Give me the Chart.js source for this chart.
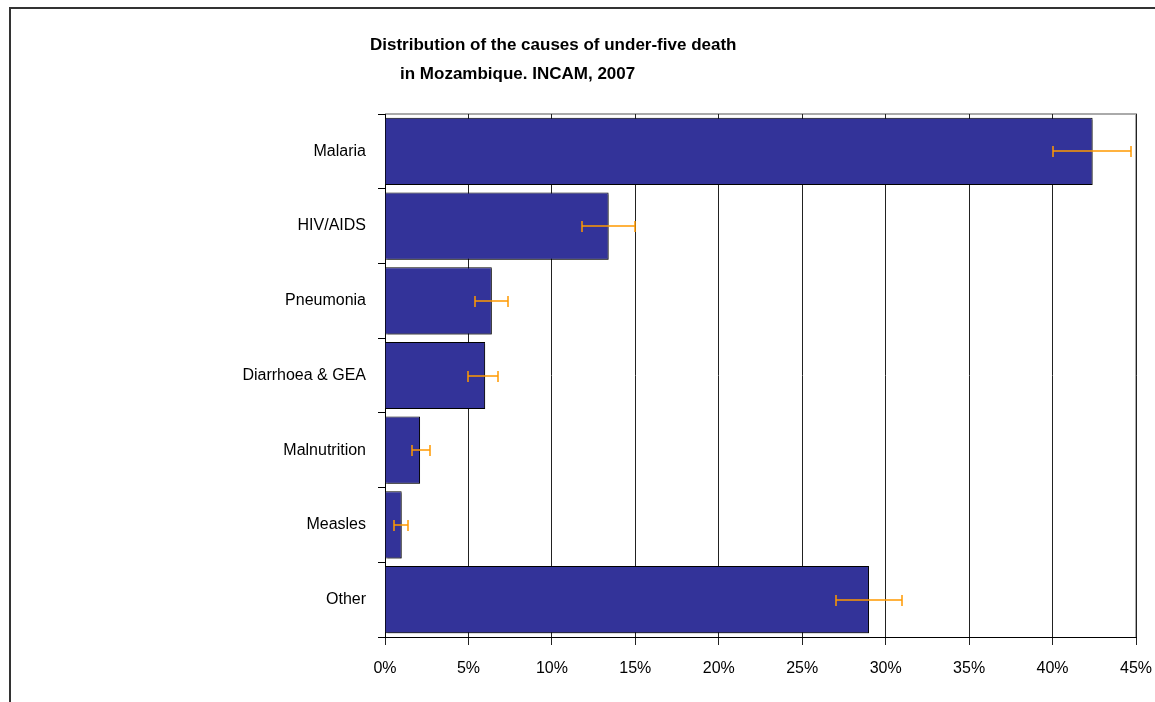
<!DOCTYPE html>
<html>
<head>
<meta charset="utf-8">
<script src="https://cdn.jsdelivr.net/npm/chart.js@4.4.0/dist/chart.umd.min.js"></script>
<style>
    html, body { margin: 0; padding: 0; background: #fff; overflow: hidden; }
    #wrap { position: relative; width: 1155px; height: 702px; }
    #frame {
        position: absolute; left: 9px; top: 7px; width: 1300px; height: 900px;
        border-left: 2px solid #333; border-top: 2px solid #333;
        pointer-events: none;
    }
    canvas { position: absolute; left: 0; top: 0; }
</style>
</head>
<body>
<div id="wrap">
    <canvas id="chart" width="1155" height="702"></canvas>
    <div id="frame"></div>
</div>
<script>
const causes = ['Malaria', 'HIV/AIDS', 'Pneumonia', 'Diarrhoea & GEA', 'Malnutrition', 'Measles', 'Other'];
const percents = [42.4, 13.4, 6.4, 6.0, 2.1, 1.0, 29.0];
const ciLow = [40.0, 11.8, 5.4, 5.0, 1.6, 0.55, 27.0];
const ciHigh = [44.7, 15.0, 7.4, 6.8, 2.7, 1.4, 31.0];
const titleLines = ['Distribution of the causes of under-five death', 'in Mozambique. INCAM, 2007'];

const FONT = "'Liberation Sans', Arial, sans-serif";

// bar shadow + plot frame top/right
const barShadow = {
    id: 'barShadow',
    beforeDatasetsDraw(chart) {
        const ctx = chart.ctx;
        ctx.save();
        ctx.shadowColor = 'rgba(0,0,0,0.35)';
        ctx.shadowOffsetX = 2;
        ctx.shadowOffsetY = 2;
        ctx.shadowBlur = 0;
    },
    afterDatasetsDraw(chart) {
        chart.ctx.restore();
    },
    beforeDraw(chart) {
        const { ctx, chartArea: a } = chart;
        ctx.save();
        ctx.strokeStyle = '#aaa';
        ctx.lineWidth = 2;
        ctx.beginPath();
        ctx.moveTo(a.left, a.top);
        ctx.lineTo(a.right, a.top);
        ctx.lineTo(a.right, a.bottom);
        ctx.stroke();
        ctx.restore();
    }
};

// error bars drawn from the x scale
const errorBars = {
    id: 'errorBars',
    afterDraw(chart) {
        const meta = chart.getDatasetMeta(0);
        const xs = chart.scales.x;
        const ctx = chart.ctx;
        ctx.save();
        ctx.shadowColor = 'transparent';
        ctx.strokeStyle = '#ff9900';
        ctx.lineWidth = 1.5;
        meta.data.forEach((bar, i) => {
            const y = Math.round(bar.y);
            const x1 = Math.round(xs.getPixelForValue(ciLow[i]));
            const x2 = Math.round(xs.getPixelForValue(ciHigh[i]));
            ctx.beginPath();
            ctx.moveTo(x1, y);
            ctx.lineTo(x2, y);
            ctx.moveTo(x1, y - 5);
            ctx.lineTo(x1, y + 6);
            ctx.moveTo(x2, y - 5);
            ctx.lineTo(x2, y + 6);
            ctx.stroke();
        });
        ctx.restore();
    }
};

const titleText = {
    id: 'titleText',
    afterDraw(chart) {
        const ctx = chart.ctx;
        ctx.save();
        ctx.fillStyle = '#000';
        ctx.font = "bold 17px " + FONT;
        ctx.textAlign = 'left';
        ctx.textBaseline = 'middle';
        ctx.fillText(titleLines[0], 370, 45);
        ctx.fillText(titleLines[1], 400, 74);
        ctx.restore();
    }
};

new Chart(document.getElementById('chart'), {
    type: 'bar',
    data: {
        labels: causes,
        datasets: [{
            data: percents,
            backgroundColor: '#333399',
            borderColor: '#000',
            borderWidth: 1,
            barPercentage: 0.9,
            categoryPercentage: 1.0
        }]
    },
    options: {
        indexAxis: 'y',
        responsive: false,
        animation: false,
        layout: { padding: { top: 114, right: 19, left: 0, bottom: 0 } },
        plugins: {
            legend: { display: false },
            tooltip: { enabled: false }
        },
        scales: {
            x: {
                min: 0,
                max: 45,
                border: { color: '#000', width: 1 },
                grid: { color: '#222', lineWidth: 1, tickLength: 8, drawTicks: true },
                ticks: {
                    stepSize: 5,
                    padding: 14,
                    color: '#000',
                    font: { family: FONT, size: 16 },
                    callback: v => v + '%'
                },
                afterFit: s => {
                    s.height = 65;
                    s.paddingLeft = 0;
                    s.paddingRight = 0;
                }
            },
            y: {
                border: { color: '#000', width: 1 },
                grid: { offset: true, drawOnChartArea: false, tickLength: 7, color: '#000' },
                ticks: {
                    padding: 12,
                    color: '#000',
                    font: { family: FONT, size: 16 }
                },
                afterFit: s => {
                    s.width = 385;
                    s.paddingTop = 0;
                    s.paddingBottom = 0;
                }
            }
        }
    },
    plugins: [barShadow, errorBars, titleText]
});
</script>
</body>
</html>
